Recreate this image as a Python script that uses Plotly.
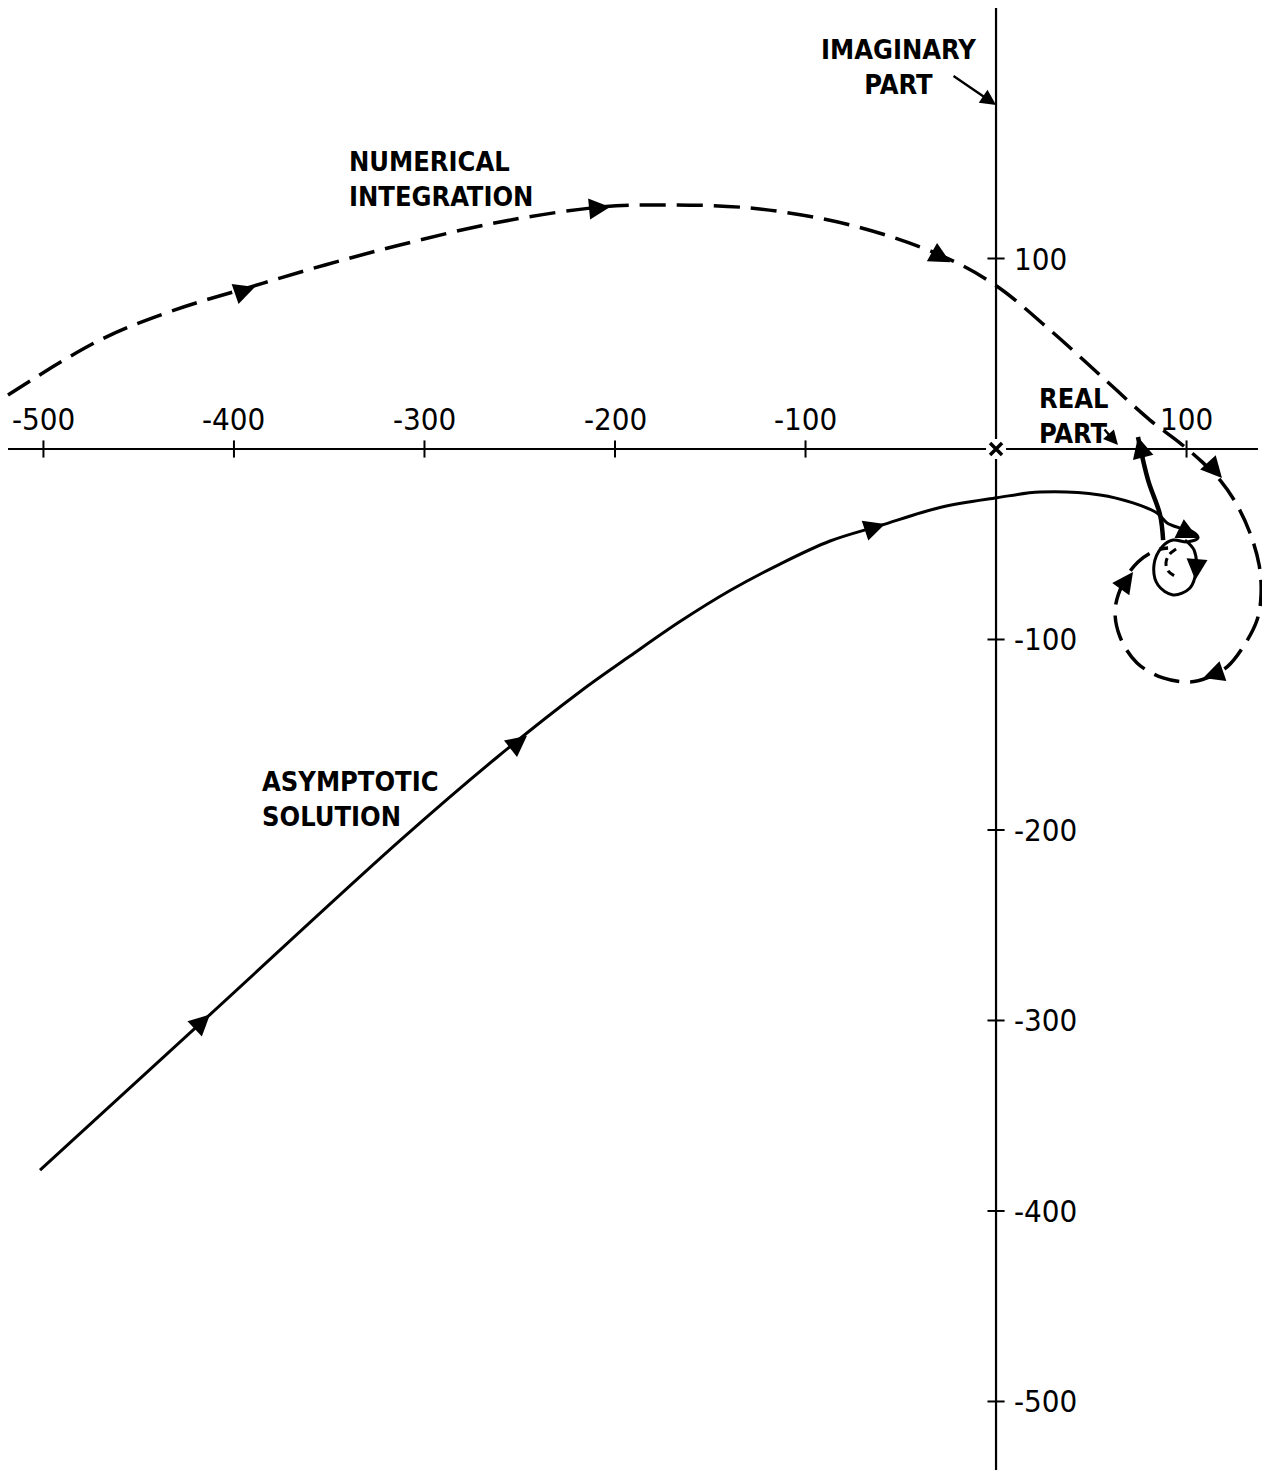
import plotly.graph_objects as go

# ---- trajectory data (real part, imaginary part) ----
# asymptotic solution (solid)
asym_re = [-501.8, -412.6, -312.9, -261.9, -218.4, -192.1, -165.9, -139.6, -113.4, -87.1, -60.9,
           -29.4, 0.5, 23.1, 54.6, 71.9, 84.5, 89.8, 96.6, 103.4, 106.0, 100.3, 92.9, 87.1, 82.9,
           85.0, 92.9, 101.8, 105.0, 103.9, 99.2]
asym_im = [-378.5, -296.9, -205.6, -161.8, -127.4, -108.7, -90.6, -74.3, -60.4, -48.3, -40.2,
           -30.7, -25.6, -22.6, -24.1, -28.3, -33.6, -38.8, -41.5, -43.6, -46.7, -48.8, -47.8, -51.4, -60.9,
           -71.4, -76.6, -73.0, -63.5, -53.0, -47.8]

# numerical integration (dashed)
num_re = [-518.6, -470.3, -431.0, -391.6, -352.2, -312.9, -260.4, -207.9, -181.6, -129.1, -76.6, -29.4,
          -0.5, 28.3, 54.6, 80.8, 96.6, 108.7, 117.6, 126.5, 133.3, 138.1, 139.1, 137.0, 129.7, 121.3,
          110.8, 101.8, 87.7, 74.0, 65.1, 62.5, 66.7, 74.5, 84.5, 90.3]
num_im = [28.3, 57.2, 73.0, 85.0, 96.6, 107.1, 119.2, 127.0, 128.1, 126.5, 117.6, 101.8,
          86.1, 62.5, 38.8, 15.2, 3.1, -7.3, -16.3, -29.4, -44.1, -60.9, -76.6, -89.8, -103.9, -114.4,
          -120.2, -122.3, -120.2, -112.3, -98.7, -84.5, -70.3, -59.3, -53.0, -52.0]

# inner end of the numerical trajectory
inner_re = [94.5, 90.8, 89.2, 90.3, 93.9]
inner_im = [-52.5, -55.6, -59.8, -64.0, -66.7]

# heavy branch running up to the real axis
branch_re = [87.7, 86.1, 79.8, 74.5]
branch_im = [-47.8, -34.6, -16.3, 6.3]

# direction arrows: (head_re, head_im, tail_re, tail_im)
asym_arrows = [(-412.6, -296.9, -421.0, -304.8), (-246.2, -150.5, -254.8, -157.3),
               (-58.3, -39.4, -68.0, -42.6), (106.0, -46.7, 100.5, -44.0),
               (104.6, -68.8, 105.2, -61.5)]
num_arrows = [(-389.0, 85.0, -399.0, 81.5), (-202.6, 127.0, -213.0, 126.0),
              (-24.0, 98.0, -33.0, 103.0), (118.6, -15.2, 113.0, -9.0),
              (108.7, -120.2, 116.5, -117.5), (71.9, -64.6, 65.5, -73.5),
              (74.5, 6.3, 77.5, -5.5)]

# axes and ticks
x_ticks = [-500, -400, -300, -200, -100, 100]
y_ticks = [100, -100, -200, -300, -400, -500]
x_extent = [-518.6, 137.5]
y_extent = [231.5, -536.0]
tick_half = 4.5

# text labels: (text, re, im, anchor)
labels = [
    ("IMAGINARY<br>PART", -51.4, 200.5, "center"),
    ("NUMERICAL<br>INTEGRATION", -340.7, 141.7, "left"),
    ("ASYMPTOTIC<br>SOLUTION", -386.4, -183.7, "left"),
    ("REAL<br>PART", 21.5, 17.3, "left"),
]

FONT = "DejaVu Sans Condensed, DejaVu Sans, sans-serif"
INK = "#000000"

fig = go.Figure()

# axes
fig.add_trace(go.Scatter(x=x_extent, y=[0, 0], mode="lines",
                         line=dict(color=INK, width=2), hoverinfo="skip"))
fig.add_trace(go.Scatter(x=[0, 0], y=y_extent, mode="lines",
                         line=dict(color=INK, width=2.2), hoverinfo="skip"))

# tick crosses
tx, ty = [], []
for v in x_ticks:
    tx += [v, v, None]
    ty += [-tick_half, tick_half, None]
for v in y_ticks:
    tx += [-tick_half, tick_half, None]
    ty += [v, v, None]
fig.add_trace(go.Scatter(x=tx, y=ty, mode="lines", line=dict(color=INK, width=2), hoverinfo="skip"))

# origin marker
fig.add_trace(go.Scatter(x=[0], y=[0], mode="markers",
                         marker=dict(symbol="square", size=20, color="white"), hoverinfo="skip"))
fig.add_trace(go.Scatter(x=[0], y=[0], mode="markers",
                         marker=dict(symbol="x-thin", size=12, line=dict(color=INK, width=3.5)),
                         hoverinfo="skip"))

# trajectories
fig.add_trace(go.Scatter(x=asym_re, y=asym_im, mode="lines", line_shape="spline",
                         line=dict(color=INK, width=3, smoothing=1.0), hoverinfo="skip"))
fig.add_trace(go.Scatter(x=num_re, y=num_im, mode="lines", line_shape="spline",
                         line=dict(color=INK, width=3.5, dash="26px,11px", smoothing=1.0),
                         hoverinfo="skip"))
fig.add_trace(go.Scatter(x=inner_re, y=inner_im, mode="lines", line_shape="spline",
                         line=dict(color=INK, width=3, dash="8px,5px"), hoverinfo="skip"))
fig.add_trace(go.Scatter(x=branch_re, y=branch_im, mode="lines", line_shape="spline",
                         line=dict(color=INK, width=4.5), hoverinfo="skip"))

annotations = []
for hx, hy, sx, sy in asym_arrows + num_arrows:
    annotations.append(dict(x=hx, y=hy, ax=sx, ay=sy, xref="x", yref="y", axref="x", ayref="y",
                            text="", showarrow=True, arrowhead=2, arrowsize=1.4, arrowwidth=3,
                            arrowcolor=INK))

# tick labels
for v in x_ticks:
    annotations.append(dict(x=v, y=0, xref="x", yref="y", text=str(v), showarrow=False,
                            xanchor="center", yanchor="bottom", yshift=10,
                            font=dict(family=FONT, size=31, color=INK)))
for v in y_ticks:
    annotations.append(dict(x=0, y=v, xref="x", yref="y", text=str(v), showarrow=False,
                            xanchor="left", yanchor="middle", xshift=16,
                            font=dict(family=FONT, size=31, color=INK)))

# curve and axis labels
for txt, lx, ly, anchor in labels:
    annotations.append(dict(x=lx, y=ly, xref="x", yref="y", text=txt, showarrow=False,
                            xanchor=anchor, yanchor="middle", align=anchor,
                            font=dict(family=FONT, size=27, color=INK, weight="bold")))

# pointer arrows for the axis names
annotations += [
    dict(x=0, y=180.6, ax=-23.1, ay=196.3, xref="x", yref="y", axref="x", ayref="y", text="",
         showarrow=True, arrowhead=2, arrowsize=1.3, arrowwidth=2.4, arrowcolor=INK),
    dict(x=64.0, y=2.1, ax=56.2, ay=11.0, xref="x", yref="y", axref="x", ayref="y", text="",
         showarrow=True, arrowhead=2, arrowsize=1.2, arrowwidth=2.4, arrowcolor=INK),
]

fig.update_layout(
    width=1262, height=1475,
    margin=dict(l=0, r=0, t=0, b=0),
    paper_bgcolor="white", plot_bgcolor="white",
    showlegend=False,
    xaxis=dict(range=[-522.8, 139.6], visible=False, fixedrange=True),
    yaxis=dict(range=[-538.6, 235.7], visible=False, fixedrange=True),
    annotations=annotations,
)

fig.write_html("out.html")
